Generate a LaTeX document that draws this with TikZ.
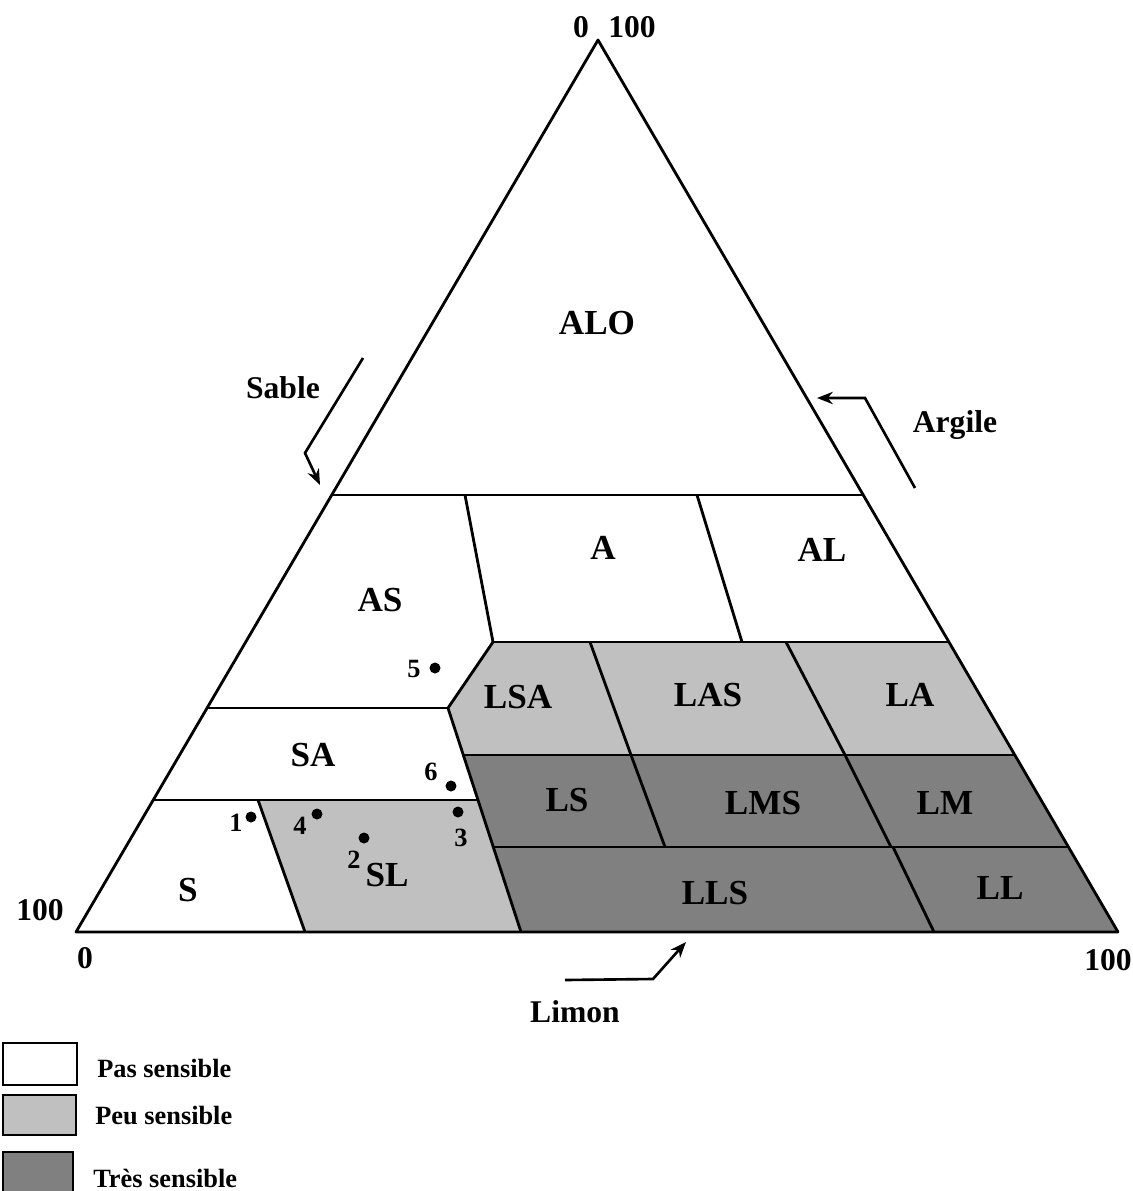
\documentclass[tikz,border=0pt]{standalone}
\usepackage{fontspec}
\setmainfont{Liberation Serif}
\usetikzlibrary{arrows.meta}
\definecolor{peu}{RGB}{192,192,192}
\definecolor{tres}{RGB}{128,128,128}
\begin{document}
\begin{tikzpicture}[x=0.02cm,y=-0.02cm,
  zone/.style={font=\fontsize{20}{20}\selectfont\bfseries},
  axe/.style={font=\fontsize{18}{18}\selectfont\bfseries},
  num/.style={font=\fontsize{15}{15}\selectfont\bfseries,inner sep=0pt},
  leg/.style={font=\fontsize{15}{15}\selectfont\bfseries,anchor=west,inner sep=0pt},
  trait/.style={line width=1.6pt,line join=round},
  fleche/.style={line width=1.5pt,-{Stealth[length=9pt,width=7pt]}}]
\useasboundingbox (0,0) rectangle (1133,1191);

\coordinate (T) at (598,40);
\coordinate (BL) at (76,932);
\coordinate (BR) at (1118,932);

\fill[peu] (258,800) -- (477,800) -- (521,932) -- (305,932) -- cycle;
\fill[peu] (493,642) -- (949,642) -- (1015,755) -- (463,755) -- (448,708) -- cycle;
\fill[tres] (463,755) -- (1015,755) -- (1118,932) -- (521,932) -- cycle;

\draw[trait] (T) -- (BR) -- (BL) -- cycle;
\draw[trait] (331,495) -- (864,495);
\draw[trait] (465,495) -- (493,642);
\draw[trait] (697,495) -- (742,642);
\draw[trait] (493,642) -- (949,642);
\draw[trait] (207,708) -- (448,708);
\draw[trait] (493,642) -- (448,708) -- (521,932);
\draw[trait] (463,755) -- (1015,755);
\draw[trait] (153,800) -- (477,800);
\draw[trait] (493,847) -- (1069,847);
\draw[trait] (258,800) -- (305,932);
\draw[trait] (590,642) -- (631,755) -- (665,847);
\draw[trait] (786,642) -- (845,755) -- (891,847);
\draw[trait] (893,847) -- (934,932);

\node[zone] (alo) at (597,323) {ALO};
\node[zone] (a) at (603,548) {A};
\node[zone] (al) at (822,550) {AL};
\node[zone] (as) at (380,600) {AS};
\node[zone] (lsa) at (518,697) {LSA};
\node[zone] (las) at (708,695) {LAS};
\node[zone] (la) at (910,695) {LA};
\node[zone] (sa) at (313,755) {SA};
\node[zone] (ls) at (567,800) {LS};
\node[zone] (lms) at (763,803) {LMS};
\node[zone] (lm) at (945,803) {LM};
\node[zone] (s) at (188,890) {S};
\node[zone] (sl) at (387,875) {SL};
\node[zone] (lls) at (715,893) {LLS};
\node[zone] (ll) at (1000,888) {LL};

\fill (251,817) circle (5.5);
\fill (364,838) circle (5.5);
\fill (458,812) circle (5.5);
\fill (317,814) circle (5.5);
\fill (435,668) circle (5.5);
\fill (451,786) circle (5.5);
\node[num] (n1) at (236,823) {1};
\node[num] (n2) at (354,860) {2};
\node[num] (n3) at (461,838) {3};
\node[num] (n4) at (300,826) {4};
\node[num] (n5) at (414,669) {5};
\node[num] (n6) at (431,772) {6};

\node[axe] (haut0) at (581,27) {0};
\node[axe] (haut100) at (632,27) {100};
\node[axe] (gauche100) at (40,910) {100};
\node[axe] (bas0) at (85,958) {0};
\node[axe] (bas100) at (1108,960) {100};
\node[axe] (sable) at (283,388) {Sable};
\node[axe] (argile) at (955,425) {Argile};
\node[axe] (limon) at (575,1012) {Limon};

\draw[fleche] (363,358) -- (305,453) -- (320,485);
\draw[fleche] (915,488) -- (865,398) -- (817,398);
\draw[fleche] (565,980) -- (653,979) -- (686,942);

\draw[line width=1.2pt,fill=white] (3,1043) rectangle (77,1085);
\draw[line width=1.2pt,fill=peu] (3,1095) rectangle (76,1135);
\draw[line width=1.2pt,fill=tres] (3,1152) rectangle (73,1200);
\node[leg] (pas) at (97,1068) {Pas sensible};
\node[leg] (peusens) at (95,1116) {Peu sensible};
\node[leg] (tressens) at (93,1178) {Très sensible};
\end{tikzpicture}
\end{document}
